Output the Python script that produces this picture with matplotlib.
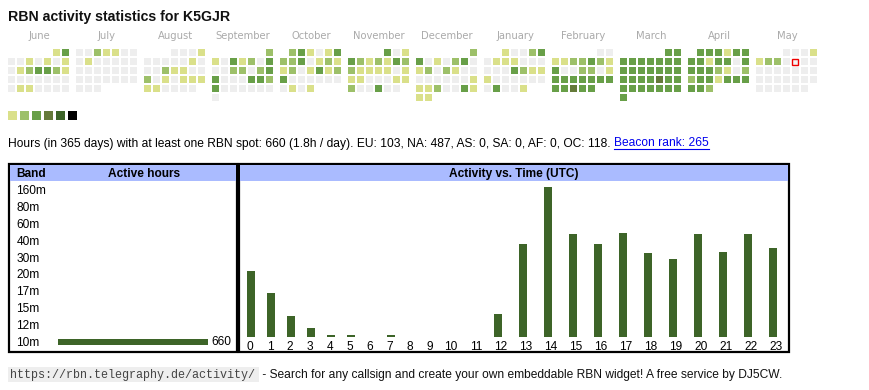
import datetime as dt

import matplotlib
matplotlib.use("Agg")
import matplotlib.pyplot as plt
from matplotlib.patches import Rectangle

plt.rcParams['font.family'] = ['Liberation Sans', 'DejaVu Sans']

# ---- data ----
callsign = "K5GJR"
first_month = dt.date(2024, 6, 1)
today = dt.date(2025, 5, 9)

# activity level per day (0 = none ... 6 = max), one list per month
june = [1, 3, 0, 0, 1, 0, 1, 0, 1, 0, 1, 2, 3, 3, 2, 1, 0, 0, 0, 0, 0, 0, 0, 0, 1, 1, 0, 0, 0, 0]
july = [0, 0, 2, 1, 1, 0, 0, 0, 1, 0, 0, 0, 0, 0, 0, 0, 0, 0, 0, 0, 0, 0, 0, 0, 0, 0, 0, 0, 0, 0, 0]
august = [0, 0, 0, 1, 0, 0, 0, 0, 0, 1, 0, 0, 0, 2, 1, 1, 0, 0, 2, 0, 1, 0, 1, 1, 1, 1, 1, 0, 0, 0, 0]
september = [2, 1, 0, 3, 1, 2, 0, 3, 0, 0, 2, 2, 0, 2, 3, 3, 0, 0, 0, 3, 3, 2, 3, 0, 0, 0, 0, 0, 0, 0]
october = [2, 3, 1, 0, 1, 3, 2, 2, 3, 0, 1, 2, 1, 1, 2, 0, 1, 3, 1, 2, 3, 0, 0, 0, 0, 0, 0, 0, 1, 0, 1]
november = [3, 0, 1, 3, 2, 1, 2, 1, 3, 2, 2, 1, 1, 1, 1, 0, 1, 1, 1, 0, 0, 0, 1, 1, 2, 0, 0, 3, 0, 0]
december = [2, 3, 0, 1, 0, 2, 3, 0, 1, 2, 0, 2, 1, 0, 0, 0, 0, 0, 0, 0, 0, 1, 1, 1, 2, 0, 0, 3, 1, 1, 1]
january = [1, 0, 0, 2, 3, 0, 1, 1, 1, 0, 0, 0, 0, 0, 0, 3, 2, 1, 1, 1, 0, 0, 0, 0, 0, 0, 0, 3, 0, 0, 1]
february = [0, 0, 1, 1, 2, 2, 3, 2, 1, 3, 0, 0, 2, 2, 0, 1, 3, 3, 3, 3, 3, 3, 3, 3, 3, 4, 3, 3]
march = [3, 3, 3, 3, 3, 3, 3, 3, 3, 3, 3, 3, 3, 3, 3, 3, 3, 3, 3, 3, 4, 3, 3, 3, 3, 3, 3, 3, 3, 3, 3]
april = [3, 3, 3, 1, 3, 3, 3, 3, 1, 3, 3, 0, 3, 3, 3, 3, 2, 1, 0, 2, 2, 3, 3, 1, 3, 3, 3, 3, 3, 2]
may = [0, 0, 0, 1, 1, 2, 2, 0, 0, 0, 0, 0, 0, 0, 0, 0, 0, 0, 0, 0, 0, 0, 0, 0, 0, 0, 0, 0, 0, 0, 0]
month_levels = [june, july, august, september, october, november,
                december, january, february, march, april, may]

total_hours = 660
continent_hours = {"EU": 103, "NA": 487, "AS": 0, "SA": 0, "AF": 0, "OC": 118}
beacon_rank = 265

bands = ["160m", "80m", "60m", "40m", "30m", "20m", "17m", "15m", "12m", "10m"]
band_hours = [0, 0, 0, 0, 0, 0, 0, 0, 0, 660]

utc_hours = list(range(24))
hour_activity = [35, 23, 11, 5, 1, 1, 0, 1, 0, 0, 0, 0,
                 12, 49, 79, 54, 49, 55, 44, 41, 54, 45, 54, 47]

level_colors = ["#eeeeee", "#dae08a", "#9dc069", "#689f48", "#657a3a", "#3d6428", "#000000"]
bar_color = "#3d6428"
header_color = "#aabbff"

# ---- canvas in pixel units ----
fig = plt.figure(figsize=(8.7, 3.9), dpi=100)
ax = fig.add_axes([0, 0, 1, 1])
ax.set_xlim(0, 870)
ax.set_ylim(390, 0)
ax.axis("off")
renderer = fig.canvas.get_renderer()


def fitted_size(s, width, base=10, **kw):
    t = ax.text(0, 0, s, fontsize=base, **kw)
    w = t.get_window_extent(renderer).width
    t.remove()
    return base * width / w


title = f"RBN activity statistics for {callsign}"
ax.text(8, 21, title, fontsize=fitted_size(title, 221, weight="bold"), weight="bold", color="#111111")

# calendar
for m, levels in enumerate(month_levels):
    y, mo = divmod(first_month.month - 1 + m, 12)
    first = dt.date(first_month.year + y, mo + 1, 1)
    x0 = 8 + 68 * m
    ax.text(x0 + 31, 39, first.strftime("%B"), fontsize=7.2, color="#aaaaaa", ha="center",
            family="DejaVu Sans")
    for d, lv in enumerate(levels):
        r, c = divmod(first.weekday() + d, 7)
        day = first + dt.timedelta(days=d)
        if day == today:
            ax.add_patch(Rectangle((x0 + 9 * c + 0.5, 49 + 9 * r + 0.5), 6, 6, fc="#f4f4f4",
                                   ec="#ee0000", lw=1.0))
        else:
            ax.add_patch(Rectangle((x0 + 9 * c, 49 + 9 * r), 7, 7, fc=level_colors[lv], ec="none"))

# colour legend
for i, col in enumerate(level_colors[1:]):
    ax.add_patch(Rectangle((8 + 12 * i, 111), 9, 9, fc=col, ec="none"))

# summary line
cont = ", ".join(f"{k}: {v}" for k, v in continent_hours.items())
info = f"Hours (in 365 days) with at least one RBN spot: {total_hours} ({total_hours / 365:.1f}h / day). {cont}. "
link = f"Beacon rank: {beacon_rank}"
fs = fitted_size(info + link, 699)
t1 = ax.text(8, 146.5, info, fontsize=fs, color="#000000")
x_link = 8 + t1.get_window_extent(renderer).width
t2 = ax.text(x_link, 146.5, link, fontsize=fs, color="#0000ee")
w_link = t2.get_window_extent(renderer).width
ax.plot([x_link, x_link + w_link], [148.5, 148.5], color="#0000ee", lw=0.8)

# boxes
ax.add_patch(Rectangle((9, 164), 228, 188, fc="none", ec="black", lw=1.6))
ax.add_patch(Rectangle((239, 164), 550, 188, fc="none", ec="black", lw=1.6))
ax.add_patch(Rectangle((10, 165), 226, 15.5, fc=header_color, ec="none"))
ax.add_patch(Rectangle((240, 165), 548, 15.5, fc=header_color, ec="none"))
ax.text(16.5, 176.7, "Band", fontsize=8.6, weight="bold")
ax.text(144, 176.7, "Active hours", fontsize=8.6, weight="bold", ha="center")
ax.text(514, 176.7, "Activity vs. Time (UTC)", fontsize=8.6, weight="bold", ha="center")

# band table
for i, b in enumerate(bands):
    ax.text(16.5, 194 + 16.9 * i, b, fontsize=8.6)

ax_band = fig.add_axes([58 / 870, (390 - 350.5) / 390, 150 / 870, 169 / 390])
ax_band.barh(range(len(bands)), band_hours, height=0.38, color=bar_color)
ax_band.set_xlim(0, max(band_hours))
ax_band.set_ylim(len(bands) - 0.5, -0.5)
ax_band.axis("off")
for i, v in enumerate(band_hours):
    if v:
        ax_band.annotate(str(v), (v, i), xytext=(2.5, 0), textcoords="offset points",
                         va="center", fontsize=8.6, clip_on=False)

# activity vs time (table columns are narrower for single-digit hours)
bar_x = [251 + 20 * h if h < 10 else 448 + 25 * (h - 10) for h in utc_hours]
label_x = [250 + 20 * h if h < 10 else 451 + 25 * (h - 10) for h in utc_hours]
ax_time = fig.add_axes([240 / 870, (390 - 337) / 390, 550 / 870, 152 / 390])
ax_time.bar(bar_x, hour_activity, width=7.7, color=bar_color)
ax_time.set_xlim(240, 790)
ax_time.set_ylim(0, 80)
ax_time.axis("off")
for h, x in zip(utc_hours, label_x):
    ax.text(x, 350, str(h), fontsize=8.6, ha="center")

# footer
url = "https://rbn.telegraphy.de/activity/"
ax.add_patch(Rectangle((8, 367), 251, 15, fc="#eeeeee", ec="none"))
ax.text(10, 378, url, fontsize=fitted_size(url, 247, family="Liberation Mono"),
        family="Liberation Mono", color="#444444")
foot = " - Search for any callsign and create your own embeddable RBN widget! A free service by DJ5CW."
ax.text(259, 378, foot, fontsize=fitted_size(foot, 524), color="#111111")

fig.savefig("out.png", dpi=100)
